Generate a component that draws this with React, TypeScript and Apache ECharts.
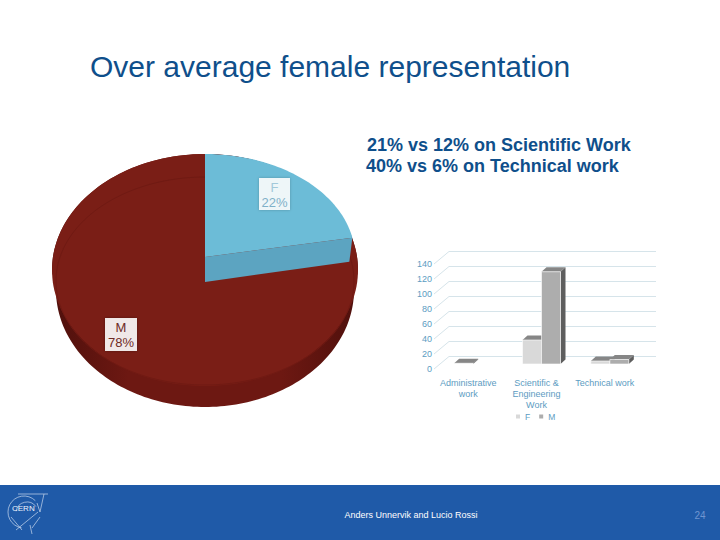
import React, { useEffect, useRef } from "react";
import * as echarts from "echarts";

const pieNames = ["F", "M"];
const pieValues = [22, 78];
const categories = ["Administrative\nwork", "Scientific &\nEngineering\nWork", "Technical work"];
const femaleValues = [1, 32, 4];
const maleValues = [0, 123, 6];
const yTicks = [0, 20, 40, 60, 80, 100, 120, 140];
const titleText = "Over average female representation";
const subtitleLines = ["21% vs 12% on Scientific Work", "40% vs 6% on Technical work"];
const footerText = "Anders Unnervik and Lucio Rossi";
const pageNumber = "24";

const FONT = '"Liberation Sans", Arial, sans-serif';
const NAVY = "#0f4f8b";
const AXIS_TEXT = "#5c9cc2";

function arc(cx: number, cy: number, rx: number, ry: number, a0: number, a1: number, n = 120) {
  const pts: number[][] = [];
  for (let i = 0; i <= n; i++) {
    const a = ((a0 + ((a1 - a0) * i) / n) * Math.PI) / 180;
    pts.push([cx + rx * Math.sin(a), cy - ry * Math.cos(a)]);
  }
  return pts;
}

function renderPie(params: any, api: any) {
  const total = pieValues.reduce((a, b) => a + b, 0);
  const sweep = (pieValues[0] / total) * 360;
  if (params.dataIndex === 1) {
    const side = [...arc(205, 270, 153, 116, -90, 90), ...arc(205, 290, 149, 117, 90, 270)];
    const face = arc(205, 270, 153, 116, 0, 360, 180);
    const rim = arc(205, 281, 149, 104, 0, 360, 180);
    return {
      type: "group",
      silent: true,
      children: [
        {
          type: "polygon",
          shape: { points: side },
          style: {
            fill: new echarts.graphic.LinearGradient(0, 0, 1, 0, [
              { offset: 0, color: "#4f100c" },
              { offset: 0.25, color: "#6d1812" },
              { offset: 0.75, color: "#6d1812" },
              { offset: 1, color: "#4f100c" },
            ]),
          },
        },
        { type: "polygon", shape: { points: face }, style: { fill: "#7a1e16" } },
        { type: "polyline", shape: { points: rim }, style: { fill: "none", stroke: "#701a13", lineWidth: 1 } },
        { type: "rect", shape: { x: 105, y: 318, width: 32, height: 33 }, style: { fill: "rgba(255,255,255,0.88)", shadowBlur: 3, shadowColor: "rgba(0,0,0,0.4)" } },
        { type: "text", style: { x: 121, y: 327, text: pieNames[1], fill: "#6e2a24", font: `13px ${FONT}`, align: "center", verticalAlign: "middle" } },
        { type: "text", style: { x: 121, y: 342, text: `${pieValues[1]}%`, fill: "#6e2a24", font: `13px ${FONT}`, align: "center", verticalAlign: "middle" } },
      ],
    };
  }
  const top = [[205, 257], ...arc(205, 257, 150, 103, 0, sweep, 60)];
  const end = top[top.length - 1];
  const wall = [[205, 257], end, [end[0] - 3, end[1] + 24], [205, 282]];
  return {
    type: "group",
    silent: true,
    children: [
      { type: "polygon", shape: { points: wall }, style: { fill: "#5ca4c1" } },
      { type: "polygon", shape: { points: top }, style: { fill: "#6cbcd7" } },
      { type: "rect", shape: { x: 259, y: 178, width: 31, height: 32 }, style: { fill: "rgba(255,255,255,0.88)", shadowBlur: 3, shadowColor: "rgba(0,0,0,0.25)" } },
      { type: "text", style: { x: 274.5, y: 187, text: pieNames[0], fill: "#a3c9da", font: `13px ${FONT}`, align: "center", verticalAlign: "middle" } },
      { type: "text", style: { x: 274.5, y: 202, text: `${pieValues[0]}%`, fill: "#7fb1c9", font: `13px ${FONT}`, align: "center", verticalAlign: "middle" } },
    ],
  };
}

function renderWall(params: any, api: any) {
  const p = api.coord([0, api.value(0)]);
  const band = api.size([1, 0])[0];
  const x0 = p[0] - band / 2;
  const style = { stroke: "#d6e4ea", lineWidth: 1 };
  return {
    type: "group",
    silent: true,
    children: [
      { type: "line", shape: { x1: x0, y1: p[1], x2: x0 + 15, y2: p[1] - 12.5 }, style },
      { type: "line", shape: { x1: x0 + 15, y1: p[1] - 12.5, x2: x0 + 222, y2: p[1] - 12.5 }, style },
    ],
  };
}

function makeBar(offset: number, body: string) {
  return (params: any, api: any) => {
    const v = api.value(1);
    if (!v) return null;
    const base = api.coord([api.value(0), 0]);
    const topPt = api.coord([api.value(0), v]);
    const w = 19;
    const x = base[0] + offset;
    const yb = base[1] - 5;
    const yt = topPt[1] - 5;
    const dx = 5;
    const dy = 4.5;
    return {
      type: "group",
      children: [
        { type: "polygon", shape: { points: [[x + w, yb], [x + w + dx, yb - dy], [x + w + dx, yt - dy], [x + w, yt]] }, style: { fill: "#5e5e5e" } },
        { type: "polygon", shape: { points: [[x, yt], [x + dx, yt - dy], [x + w + dx, yt - dy], [x + w, yt]] }, style: { fill: "#868686" } },
        { type: "rect", shape: { x, y: yt, width: w, height: yb - yt }, style: { fill: body, stroke: "#ffffff", lineWidth: 0.6 } },
      ],
    };
  };
}

const logoStyle = { stroke: "#c9d8ee", lineWidth: 0.7, fill: "none" };

export default function App() {
  const ref = useRef<HTMLDivElement>(null);
  useEffect(() => {
    document.body.style.margin = "0";
    const chart = echarts.init(ref.current!, undefined, { renderer: "svg" });
    chart.setOption({
      animation: false,
      backgroundColor: "#ffffff",
      textStyle: { fontFamily: FONT },
      grid: { left: 434, top: 264, width: 205, height: 105, containLabel: false },
      legend: {
        data: ["F", "M"],
        left: 511,
        top: 407,
        icon: "rect",
        itemWidth: 4,
        itemHeight: 4,
        itemGap: 9,
        textStyle: { color: AXIS_TEXT, fontSize: 8.5, fontFamily: FONT, padding: [0, 0, 0, 0] },
      },
      xAxis: {
        type: "category",
        data: categories,
        axisLine: { show: false },
        axisTick: { show: false },
        axisLabel: { interval: 0, color: AXIS_TEXT, fontSize: 9, lineHeight: 11, margin: 8, fontFamily: FONT },
      },
      yAxis: {
        type: "value",
        min: 0,
        max: 140,
        interval: 20,
        axisLine: { show: false },
        axisTick: { show: false },
        splitLine: { show: false },
        axisLabel: { color: AXIS_TEXT, fontSize: 9, margin: 2, fontFamily: FONT },
      },
      series: [
        { type: "custom", name: "pie", coordinateSystem: "none", data: [pieValues[1], pieValues[0]].map((v) => v), renderItem: (p: any, a: any) => renderPie({ dataIndex: p.dataIndex === 0 ? 1 : 0 }, a), silent: true, z: 1 },
        { type: "custom", name: "wall", data: yTicks.map((v) => [v]), encode: { y: 0 }, renderItem: renderWall, silent: true, z: 1 },
        { type: "custom", name: "F", data: femaleValues.map((v, i) => [i, v]), encode: { x: 0, y: 1 }, itemStyle: { color: "#d9d9d9" }, renderItem: makeBar(-14, "#d9d9d9"), z: 2 },
        { type: "custom", name: "M", data: maleValues.map((v, i) => [i, v]), encode: { x: 0, y: 1 }, itemStyle: { color: "#adadad" }, renderItem: makeBar(5, "#adadad"), z: 3 },
      ],
      graphic: [
        { type: "text", x: 90, y: 51, style: { text: titleText, fill: NAVY, font: `30px ${FONT}` } },
        { type: "text", x: 367, y: 136, style: { text: subtitleLines[0], fill: NAVY, font: `bold 18px ${FONT}` } },
        { type: "text", x: 366, y: 157, style: { text: subtitleLines[1], fill: NAVY, font: `bold 18px ${FONT}` } },
        { type: "rect", shape: { x: 0, y: 485, width: 720, height: 55 }, style: { fill: "#1f5aa8" }, z: -1 },
        { type: "text", x: 411, y: 515, style: { text: footerText, fill: "#ffffff", font: `9px ${FONT}`, align: "center", verticalAlign: "middle" } },
        { type: "text", x: 700, y: 515, style: { text: pageNumber, fill: "#6f95d0", font: `10px ${FONT}`, align: "center", verticalAlign: "middle" } },
        { type: "arc", shape: { cx: 24, cy: 512, r: 16, startAngle: Math.PI * 0.55, endAngle: Math.PI * 1.75 }, style: logoStyle },
        { type: "arc", shape: { cx: 27, cy: 513, r: 11, startAngle: Math.PI * 1.05, endAngle: Math.PI * 1.8 }, style: logoStyle },
        { type: "line", shape: { x1: 18, y1: 494, x2: 48, y2: 494 }, style: logoStyle },
        { type: "line", shape: { x1: 44, y1: 494, x2: 40, y2: 512 }, style: logoStyle },
        { type: "line", shape: { x1: 40, y1: 512, x2: 37, y2: 503 }, style: logoStyle },
        { type: "line", shape: { x1: 16, y1: 530, x2: 38, y2: 512 }, style: logoStyle },
        { type: "line", shape: { x1: 11, y1: 517, x2: 22, y2: 530 }, style: logoStyle },
        { type: "line", shape: { x1: 40, y1: 517, x2: 32, y2: 528 }, style: logoStyle },
        { type: "line", shape: { x1: 30, y1: 525, x2: 32, y2: 534 }, style: logoStyle },
        { type: "text", x: 12, y: 504, style: { text: "CERN", fill: "#eef3fb", font: `8px ${FONT}` } },
      ],
    });
    return () => chart.dispose();
  }, []);
  return <div ref={ref} style={{ position: "absolute", left: 0, top: 0, width: 720, height: 540 }} />;
}
